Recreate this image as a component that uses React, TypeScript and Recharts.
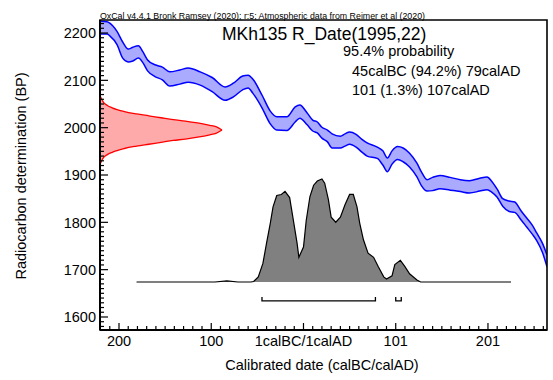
import React from 'react';
import { ComposedChart, Area, Line, XAxis, YAxis, ReferenceArea } from 'recharts';

// Calibration curve (IntCal20), 1-sigma envelope
const curveYears = [-219, -212, -209, -201, -195, -189, -184, -178, -173, -168, -160, -152, -144, -133, -124, -111, -98, -84, -75, -65, -59, -54, -44, -35, -28, -17, -8, -3, 5, 11, 16, 21, 27, 32, 41, 46, 51, 58, 64, 70, 81, 87, 92, 97, 103, 109, 116, 124, 129, 135, 141, 149, 160, 171, 181, 192, 200, 205, 211, 217, 224, 230, 237, 243, 249, 254, 260, 265];
const curveHigh = [2225, 2224, 2221, 2203, 2181, 2166, 2170, 2173, 2160, 2143, 2133, 2128, 2118, 2122, 2126, 2118, 2106, 2086, 2094, 2109, 2111, 2103, 2069, 2035, 2023, 2023, 2044, 2048, 2031, 2016, 2012, 2001, 1995, 1987, 1982, 1987, 1991, 1986, 1976, 1968, 1959, 1951, 1936, 1951, 1960, 1957, 1946, 1925, 1906, 1890, 1895, 1899, 1895, 1890, 1888, 1893, 1896, 1887, 1870, 1850, 1845, 1843, 1824, 1809, 1794, 1777, 1756, 1731];
const curveLow = [2198, 2198, 2194, 2175, 2147, 2139, 2141, 2147, 2137, 2120, 2108, 2101, 2088, 2092, 2096, 2090, 2076, 2058, 2065, 2080, 2084, 2073, 2042, 2008, 1995, 1994, 2012, 2020, 2006, 1993, 1989, 1978, 1970, 1957, 1957, 1961, 1965, 1959, 1949, 1940, 1935, 1921, 1907, 1923, 1933, 1928, 1917, 1896, 1877, 1866, 1867, 1871, 1868, 1865, 1862, 1866, 1869, 1864, 1853, 1834, 1823, 1821, 1805, 1790, 1775, 1761, 1737, 1706];

// Radiocarbon measurement 1995 +/- 22 BP, drawn against the BP axis
const measDensity = [0, 0.01, 0.03, 0.06, 0.1, 0.2, 0.3, 0.4, 0.5, 0.6, 0.7, 0.8, 0.9, 0.95, 1];
const measLow = [1922, 1928, 1937, 1943, 1948, 1956, 1961, 1965, 1969, 1973, 1976, 1980, 1985, 1988, 1995];
const measHigh = [2068, 2062, 2053, 2047, 2042, 2034, 2029, 2025, 2021, 2017, 2014, 2010, 2005, 2002, 1995];

// Calibrated probability distribution
const postYears = [-180, -95, -82, -70, -56, -53, -48, -43, -39, -35, -32, -28, -23, -19, -14, -10, -6, -4, 1, 4, 8, 12, 16, 21, 24, 28, 31, 36, 41, 46, 51, 55, 59, 62, 66, 71, 77, 82, 88, 91, 97, 100, 106, 111, 116, 124, 128, 226];
const postProb = [0, 0, 0.01, 0, 0, 0.005, 0.05, 0.18, 0.38, 0.57, 0.73, 0.84, 0.85, 0.88, 0.82, 0.6, 0.38, 0.24, 0.34, 0.6, 0.83, 0.94, 0.98, 1.0, 0.96, 0.8, 0.63, 0.58, 0.63, 0.75, 0.85, 0.85, 0.73, 0.57, 0.41, 0.28, 0.24, 0.15, 0.05, 0.03, 0.06, 0.17, 0.21, 0.15, 0.08, 0.02, 0, 0];

// 95.4% ranges: 45calBC-79calAD, 101-107calAD
const rangeStart = [-44, 101];
const rangeEnd = [79, 107];

const majorYearTicks = [-199, -99, 1, 101, 201];
const majorYearLabels = ['200', '100', '1calBC/1calAD', '101', '201'];
const majorBpTicks = [1600, 1700, 1800, 1900, 2000, 2100, 2200];

const X_DOMAIN = [-219.6, 265];
const Y_DOMAIN = [1572.5, 2227.5];
const BAR_BP = 1634;
const BAR_TICK = 8;

const curveData = curveYears.map((year, i) => ({ year, band: [curveLow[i], curveHigh[i]] }));
const measData = measDensity.map((d, i) => ({ d, band: [measLow[i], measHigh[i]] }));
const postData = postYears.map((year, i) => ({ year, p: postProb[i] }));
const rangeData = rangeStart.map((s, i) => [
  { year: s, bp: BAR_BP + BAR_TICK },
  { year: s, bp: BAR_BP },
  { year: rangeEnd[i], bp: BAR_BP },
  { year: rangeEnd[i], bp: BAR_BP + BAR_TICK },
]);

const yearTicks: number[] = [];
for (let t = -209; t <= 261; t += 10) yearTicks.push(t);
const bpTicks: number[] = [];
for (let t = 1580; t <= 2220; t += 10) bpTicks.push(t);

const FONT = '"Liberation Sans", Arial, Helvetica, sans-serif';

function YearTick({ x, y, payload }: any) {
  const i = majorYearTicks.indexOf(payload.value);
  const major = i >= 0;
  return (
    <g>
      <line x1={x} x2={x} y1={y} y2={y - (major ? 7 : 4)} stroke="#000" strokeWidth={1.2} />
      {major && (
        <text x={x} y={y + 16} textAnchor="middle" fontSize={14.5} fill="#000">
          {majorYearLabels[i]}
        </text>
      )}
    </g>
  );
}

function BpTick({ x, y, payload }: any) {
  const major = majorBpTicks.includes(payload.value);
  return (
    <g>
      <line x1={x} x2={x + (major ? 8 : 4)} y1={y} y2={y} stroke="#000" strokeWidth={1.2} />
      {major && (
        <text x={x - 4} y={y} dy="0.36em" textAnchor="end" fontSize={14.5} fill="#000">
          {payload.value}
        </text>
      )}
    </g>
  );
}

export default function App() {
  return (
    <div style={{ position: 'absolute', left: 0, top: 0, width: 553, height: 380, background: '#fff', fontFamily: FONT }}>
      <ComposedChart width={553} height={380} margin={{ top: 20, right: 6, bottom: 0, left: 0 }}>
        <XAxis
          xAxisId="yr"
          type="number"
          dataKey="year"
          domain={X_DOMAIN}
          allowDataOverflow
          ticks={yearTicks}
          interval={0}
          height={50}
          tickSize={0}
          tickMargin={0}
          tickLine={false}
          tick={<YearTick />}
          axisLine={{ stroke: '#000', strokeWidth: 2 }}
        />
        <XAxis xAxisId="dens" orientation="top" type="number" dataKey="d" domain={[0, 3.664]} allowDataOverflow hide />
        <YAxis
          yAxisId="bp"
          type="number"
          domain={Y_DOMAIN}
          allowDataOverflow
          ticks={bpTicks}
          interval={0}
          width={100}
          tickSize={0}
          tickMargin={0}
          tickLine={false}
          tick={<BpTick />}
          axisLine={{ stroke: '#000', strokeWidth: 2 }}
        />
        <YAxis yAxisId="prob" orientation="right" type="number" domain={[-0.466, 2.544]} allowDataOverflow hide />

        <Area
          xAxisId="yr"
          yAxisId="bp"
          data={curveData}
          dataKey="band"
          type="monotone"
          stroke="#0000ff"
          strokeWidth={1.5}
          fill="#aaaaff"
          fillOpacity={1}
          isAnimationActive={false}
        />
        <Area
          xAxisId="dens"
          yAxisId="bp"
          data={measData}
          dataKey="band"
          type="monotone"
          stroke="#ff0000"
          strokeWidth={1.3}
          fill="#ffaaaa"
          fillOpacity={1}
          isAnimationActive={false}
        />
        <Area
          xAxisId="yr"
          yAxisId="prob"
          data={postData}
          dataKey="p"
          type="linear"
          baseValue={0}
          stroke="#000"
          strokeWidth={1.2}
          fill="#808080"
          fillOpacity={1}
          isAnimationActive={false}
        />
        {rangeData.map((d, i) => (
          <Line
            key={i}
            xAxisId="yr"
            yAxisId="bp"
            data={d}
            dataKey="bp"
            type="linear"
            stroke="#000"
            strokeWidth={1.3}
            dot={false}
            isAnimationActive={false}
          />
        ))}
        <ReferenceArea
          xAxisId="yr"
          yAxisId="bp"
          x1={X_DOMAIN[0]}
          x2={X_DOMAIN[1]}
          y1={Y_DOMAIN[0]}
          y2={Y_DOMAIN[1]}
          fill="none"
          stroke="#000"
          strokeWidth={1.6}
          ifOverflow="visible"
        />
      </ComposedChart>
      <svg width={553} height={380} style={{ position: 'absolute', left: 0, top: 0, pointerEvents: 'none' }}>
        <text x={100} y={18.5} fontSize={8.3} textLength={325} lengthAdjust="spacingAndGlyphs" fill="#000">
          OxCal v4.4.1 Bronk Ramsey (2020); r:5; Atmospheric data from Reimer et al (2020)
        </text>
        <text x={222} y={40} fontSize={17.5} fill="#000">MKh135 R_Date(1995,22)</text>
        <text x={343} y={56} fontSize={14.5} fill="#000">95.4% probability</text>
        <text x={352} y={76} fontSize={14.5} fill="#000">45calBC (94.2%) 79calAD</text>
        <text x={352} y={95} fontSize={14.5} fill="#000">101 (1.3%) 107calAD</text>
        <text x={322} y={370} fontSize={14.5} textAnchor="middle" fill="#000">Calibrated date (calBC/calAD)</text>
        <text x={26} y={176} fontSize={14.5} textAnchor="middle" fill="#000" transform="rotate(-90, 26, 176)">
          Radiocarbon determination (BP)
        </text>
      </svg>
    </div>
  );
}
